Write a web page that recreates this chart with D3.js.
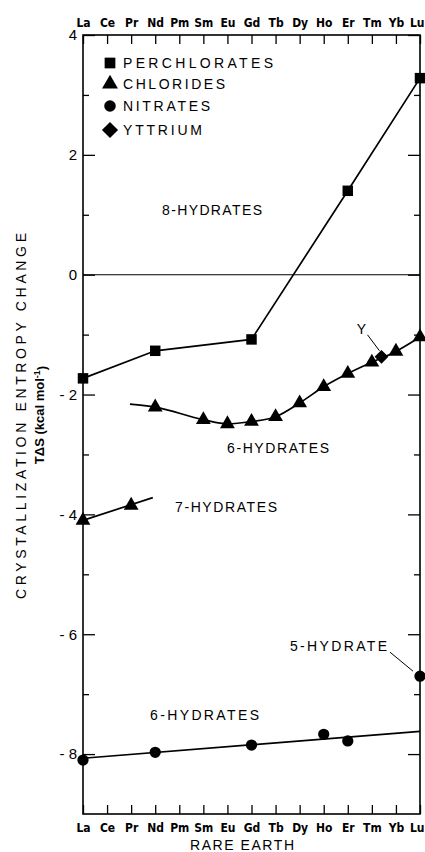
<!DOCTYPE html>
<html>
<head>
<meta charset="utf-8">
<script src="https://cdn.jsdelivr.net/npm/d3@7"></script>
<style>
  html, body { margin: 0; padding: 0; background: #fff; }
  svg { display: block; }
</style>
</head>
<body>
<script>
// ---------------- DATA ----------------
const elements = ["La","Ce","Pr","Nd","Pm","Sm","Eu","Gd","Tb","Dy","Ho","Er","Tm","Yb","Lu"];
const yTickValues = [4, 2, 0, -2, -4, -6, -8];
const yTickLabels = ["4", "2", "0", "-\u00a02", "-\u00a04", "-\u00a06", "-\u00a08"];
const yMinorTicks = [3, 1, -1, -3, -5, -7];

// Perchlorates, 8-hydrates
const perchlorateEls  = ["La", "Nd", "Gd", "Er", "Lu"];
const perchlorateVals = [-1.73, -1.27, -1.08, 1.40, 3.28];

// Chlorides, 7-hydrates
const chloride7Els  = ["La", "Pr"];
const chloride7Vals = [-4.10, -3.85];
// fitted line of 7-hydrates (element position, value)
const chloride7FitPos  = [0, 2.9];
const chloride7FitVals = [-4.10, -3.72];

// Chlorides, 6-hydrates
const chloride6Els  = ["Nd", "Sm", "Eu", "Gd", "Tb", "Dy", "Ho", "Er", "Tm", "Yb", "Lu"];
const chloride6Vals = [-2.21, -2.42, -2.49, -2.45, -2.37, -2.14, -1.87, -1.65, -1.46, -1.28, -1.04];
// start of the fitted 6-hydrate curve (element position, value)
const chloride6StartPos = 1.95;
const chloride6StartVal = -2.16;

// Yttrium (placed by radius between Tm and Yb)
const yttriumPos = 12.4;
const yttriumVal = -1.37;

// Nitrates, 6-hydrates
const nitrate6Els  = ["La", "Nd", "Gd", "Ho", "Er"];
const nitrate6Vals = [-8.10, -7.97, -7.85, -7.67, -7.78];
const nitrateFitPos  = [0, 14];
const nitrateFitVals = [-8.07, -7.62];
// Nitrate 5-hydrate
const nitrate5Els  = ["Lu"];
const nitrate5Vals = [-6.70];

const legendNames = ["PERCHLORATES", "CHLORIDES", "NITRATES", "YTTRIUM"];

// ---------------- LAYOUT ----------------
const W = 425, H = 852;
const plotL = 83, plotR = 420, plotT = 35, plotB = 814;
const font = "'Liberation Sans', Arial, sans-serif";
const condFont = "'DejaVu Sans Condensed', 'DejaVu Sans', sans-serif";

const svg = d3.select("body").append("svg").attr("width", W).attr("height", H);

const x = d3.scaleLinear().domain([0, elements.length - 1]).range([plotL, plotR]);
const y = d3.scaleLinear().domain([-9, 4]).range([plotB, plotT]);
const xi = name => elements.indexOf(name);

const g = svg.append("g");

// frame
g.append("rect").attr("x", plotL).attr("y", plotT).attr("width", plotR - plotL).attr("height", plotB - plotT)
  .attr("fill", "none").attr("stroke", "#000").attr("stroke-width", 1.6);

function styleAxis(sel) {
  sel.select(".domain").remove();
  sel.selectAll(".tick line").attr("stroke", "#000").attr("stroke-width", 1.3);
}
function styleElementLabels(s) {
  s.selectAll("text").attr("font-family", condFont).attr("font-weight", "bold")
    .attr("font-size", 12).attr("fill", "#000");
  // keep the end labels inside the page
  s.selectAll(".tick text").filter(i => i === elements.length - 1)
    .attr("text-anchor", "end").attr("dx", 4);
}

// top axis
g.append("g").attr("transform", `translate(0,${plotT})`)
  .call(d3.axisTop(x).tickValues(d3.range(elements.length)).tickSize(-9).tickPadding(8)
    .tickFormat(i => elements[i]))
  .call(styleAxis)
  .call(styleElementLabels);

// bottom axis
g.append("g").attr("transform", `translate(0,${plotB})`)
  .call(d3.axisBottom(x).tickValues(d3.range(elements.length)).tickSize(-9).tickPadding(9)
    .tickFormat(i => elements[i]))
  .call(styleAxis)
  .call(styleElementLabels);

// left axis major
g.append("g").attr("transform", `translate(${plotL},0)`)
  .call(d3.axisLeft(y).tickValues(yTickValues).tickSize(-12).tickPadding(6)
    .tickFormat((d, i) => yTickLabels[i]))
  .call(styleAxis)
  .call(s => s.selectAll("text").attr("font-family", font).attr("font-size", 15)
    .attr("fill", "#000"));
// left minor
g.append("g").attr("transform", `translate(${plotL},0)`)
  .call(d3.axisLeft(y).tickValues(yMinorTicks).tickSize(-6).tickFormat(""))
  .call(styleAxis);
// right major/minor
g.append("g").attr("transform", `translate(${plotR},0)`)
  .call(d3.axisRight(y).tickValues(yTickValues).tickSize(-12).tickFormat(""))
  .call(styleAxis);
g.append("g").attr("transform", `translate(${plotR},0)`)
  .call(d3.axisRight(y).tickValues(yMinorTicks).tickSize(-6).tickFormat(""))
  .call(styleAxis);

// zero line
g.append("line").attr("x1", plotL).attr("x2", plotR).attr("y1", y(0)).attr("y2", y(0))
  .attr("stroke", "#000").attr("stroke-width", 1.1);

// ---------------- LINES ----------------
const lineStroke = 1.7;
function drawLine(pts, curve) {
  const lin = d3.line().x(d => x(d[0])).y(d => y(d[1])).curve(curve || d3.curveLinear);
  g.append("path").datum(pts).attr("d", lin)
    .attr("fill", "none").attr("stroke", "#000").attr("stroke-width", lineStroke);
}
drawLine(perchlorateEls.map((e, i) => [xi(e), perchlorateVals[i]]));
drawLine(chloride7FitPos.map((p, i) => [p, chloride7FitVals[i]]));
drawLine([[chloride6StartPos, chloride6StartVal]].concat(chloride6Els.map((e, i) => [xi(e), chloride6Vals[i]])),
  d3.curveMonotoneX);
drawLine(nitrateFitPos.map((p, i) => [p, nitrateFitVals[i]]));

// ---------------- MARKERS ----------------
const sym = {
  square:   d3.symbol().type(d3.symbolSquare).size(110)(),
  triangle: d3.symbol().type(d3.symbolTriangle).size(95)(),
  circle:   d3.symbol().type(d3.symbolCircle).size(100)(),
  diamond:  d3.symbol().type(d3.symbolSquare).size(95)()
};
function drawMarkers(pos, vals, kind) {
  g.append("g").selectAll("path").data(pos.map((p, i) => [p, vals[i]])).join("path")
    .attr("d", sym[kind])
    .attr("transform", d => `translate(${x(d[0])},${y(d[1])})` + (kind === "diamond" ? " rotate(45)" : ""))
    .attr("fill", "#000");
}
drawMarkers(perchlorateEls.map(xi), perchlorateVals, "square");
drawMarkers(chloride7Els.map(xi), chloride7Vals, "triangle");
drawMarkers(chloride6Els.map(xi), chloride6Vals, "triangle");
drawMarkers([yttriumPos], [yttriumVal], "diamond");
drawMarkers(nitrate6Els.map(xi), nitrate6Vals, "circle");
drawMarkers(nitrate5Els.map(xi), nitrate5Vals, "circle");

// ---------------- LEGEND ----------------
const legendKinds = ["square", "triangle", "circle", "diamond"];
const legendY = [63, 84, 106, 130];
const legendLen = [150, 102, 87, 79];
const legendSym = {
  square:   d3.symbol().type(d3.symbolSquare).size(115)(),
  triangle: d3.symbol().type(d3.symbolTriangle).size(110)(),
  circle:   d3.symbol().type(d3.symbolCircle).size(105)(),
  diamond:  d3.symbol().type(d3.symbolSquare).size(130)()
};
legendNames.forEach((name, i) => {
  g.append("path").attr("d", legendSym[legendKinds[i]])
    .attr("transform", `translate(110,${legendY[i]})` + (legendKinds[i] === "diamond" ? " rotate(45)" : ""))
    .attr("fill", "#000");
  g.append("text").attr("x", 123).attr("y", legendY[i]).attr("dy", "0.36em")
    .attr("font-family", font).attr("font-size", 14).attr("fill", "#000")
    .attr("textLength", legendLen[i]).attr("lengthAdjust", "spacing")
    .text(name);
});

// ---------------- ANNOTATIONS ----------------
function label(txt, x0, yb, len, anchor) {
  g.append("text").attr("x", x0).attr("y", yb)
    .attr("font-family", font).attr("font-size", 14).attr("fill", "#000")
    .attr("text-anchor", anchor || "start")
    .attr("textLength", len).attr("lengthAdjust", "spacing").text(txt);
}
label("8-HYDRATES", 162, 215, 100);
label("6-HYDRATES", 227, 453, 102);
label("7-HYDRATES", 175, 512, 102);
label("6-HYDRATES", 150, 720, 109);

// Y label and leader
const yx = x(yttriumPos), yy = y(yttriumVal);
g.append("text").attr("x", yx - 20).attr("y", yy - 23).attr("text-anchor", "middle")
  .attr("font-family", font).attr("font-size", 14).attr("fill", "#000").text("Y");
g.append("line").attr("x1", yx - 14).attr("y1", yy - 22).attr("x2", yx - 2).attr("y2", yy - 6)
  .attr("stroke", "#000").attr("stroke-width", 1);

// 5-hydrate label and leader
const nx = x(xi(nitrate5Els[0])), ny = y(nitrate5Vals[0]);
label("5-HYDRATE", nx - 130, ny - 25, 97);
g.append("line").attr("x1", nx - 30).attr("y1", ny - 24).attr("x2", nx - 7).attr("y2", ny - 5)
  .attr("stroke", "#000").attr("stroke-width", 1);

// axis titles
g.append("text").attr("transform", "translate(26,416) rotate(-90)").attr("text-anchor", "middle")
  .attr("font-family", font).attr("font-size", 14).attr("fill", "#000")
  .attr("textLength", 366).attr("lengthAdjust", "spacing")
  .text("CRYSTALLIZATION ENTROPY CHANGE");
const t2 = g.append("text").attr("transform", "translate(44,415) rotate(-90)").attr("text-anchor", "middle")
  .attr("font-family", font).attr("font-size", 13).attr("font-weight", "bold").attr("fill", "#000");
t2.append("tspan").text("TΔS (kcal mol");
t2.append("tspan").attr("dy", "-0.45em").attr("font-size", 9).text("-1");
t2.append("tspan").attr("dy", "0.45em").text(")");

g.append("text").attr("x", 242).attr("y", 850).attr("text-anchor", "middle")
  .attr("font-family", font).attr("font-size", 14).attr("fill", "#000")
  .attr("textLength", 104).attr("lengthAdjust", "spacing")
  .text("RARE EARTH");
</script>
</body>
</html>
